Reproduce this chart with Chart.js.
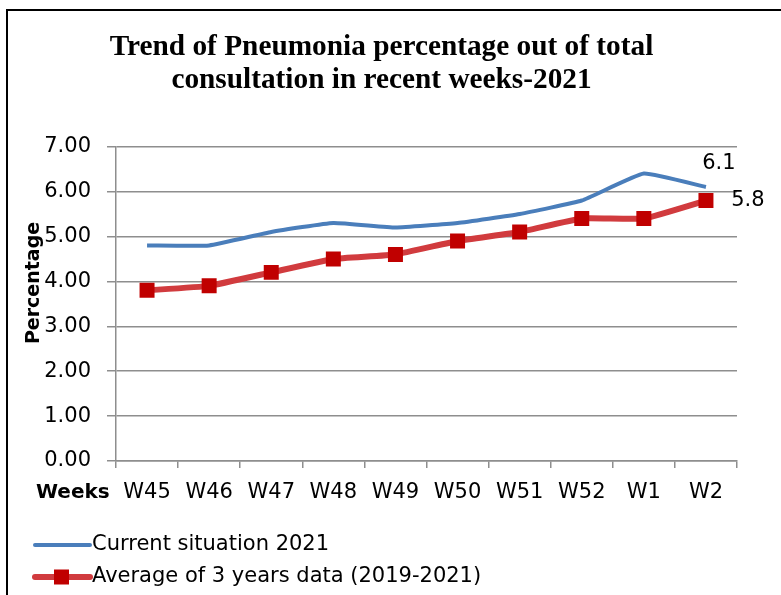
<!DOCTYPE html>
<html>
<head>
<meta charset="utf-8">
<script src="https://cdn.jsdelivr.net/npm/chart.js@4"></script>
<style>
  html, body { margin: 0; padding: 0; background: #fff; }
  #wrap { position: relative; width: 781px; height: 595px; overflow: hidden; }
  #frame { position: absolute; left: 6px; top: 9px; width: 900px; height: 700px;
           border-left: 2px solid #000; border-top: 2px solid #000; }
  canvas { position: absolute; left: 0; top: 0; }
</style>
</head>
<body>
<div id="wrap">
  <div id="frame"></div>
  <canvas id="myChart" width="781" height="595"></canvas>
</div>
<script>
const ctx = document.getElementById('myChart');

// data
const weeks = ['W45', 'W46', 'W47', 'W48', 'W49', 'W50', 'W51', 'W52', 'W1', 'W2'];
const current2021 = [4.8, 4.8, 5.1, 5.3, 5.2, 5.3, 5.5, 5.8, 6.4, 6.1];
const avg3years = [3.8, 3.9, 4.2, 4.5, 4.6, 4.9, 5.1, 5.4, 5.4, 5.8];
const yTicks = [0, 1, 2, 3, 4, 5, 6, 7];

const blue = '#4a7ebb';
const redLine = '#d13b3e';
const redMark = '#c00000';
const gridGray = '#8e8e8e';
const sans = '"DejaVu Sans", sans-serif';

// draws the bits Chart.js can't place like Excel does
const extras = {
  id: 'extras',
  afterDraw(chart) {
    const c = chart.ctx;
    c.save();
    c.fillStyle = '#000';

    // "Weeks" in front of the category labels
    c.font = 'bold 20px ' + sans;
    c.textAlign = 'left';
    c.textBaseline = 'middle';
    c.fillText('Weeks', 36, 493);

    // y title, sitting over the tick labels
    c.save();
    c.translate(34, 283);
    c.rotate(-Math.PI / 2);
    c.textAlign = 'center';
    c.font = 'bold 19px ' + sans;
    c.fillText('Percentage', 0, 0);
    c.restore();

    // value labels on the last points
    c.font = '21px ' + sans;
    c.textAlign = 'center';
    const last = weeks.length - 1;
    const pb = chart.getDatasetMeta(0).data[last];
    const pr = chart.getDatasetMeta(1).data[last];
    c.fillText(current2021[last].toFixed(1), pb.x + 13, pb.y - 24);
    c.fillText(avg3years[last].toFixed(1), pr.x + 42, pr.y);

    // legend, stacked at bottom left
    const rows = [{ y: 545, ds: chart.data.datasets[0] }, { y: 577, ds: chart.data.datasets[1] }];
    rows.forEach(r => {
      c.strokeStyle = r.ds.borderColor;
      c.lineWidth = r.ds.borderWidth;
      c.lineCap = 'round';
      c.beginPath();
      c.moveTo(35, r.y);
      c.lineTo(90, r.y);
      c.stroke();
      if (r.ds.pointRadius > 0) {
        c.fillStyle = r.ds.pointBackgroundColor;
        c.fillRect(54, r.y - 7.5, 15, 15);
      }
      c.fillStyle = '#000';
      c.textAlign = 'left';
      c.font = '21px ' + sans;
      c.fillText(r.ds.label, 92, r.y);
    });
    c.restore();
  }
};

new Chart(ctx, {
  type: 'line',
  data: {
    labels: weeks,
    datasets: [{
      label: 'Current situation 2021',
      data: current2021,
      borderColor: blue,
      backgroundColor: blue,
      borderWidth: 4,
      pointRadius: 0,
      tension: 0.12
    }, {
      label: 'Average of 3 years data (2019-2021)',
      data: avg3years,
      borderColor: redLine,
      backgroundColor: redMark,
      borderWidth: 6,
      pointStyle: 'rect',
      pointRadius: 10.6,
      pointBackgroundColor: redMark,
      pointBorderColor: redMark,
      pointBorderWidth: 0,
      tension: 0.12
    }]
  },
  options: {
    responsive: false,
    animation: false,
    layout: { padding: { left: 26, right: 44, top: 0, bottom: 0 } },
    plugins: {
      legend: { display: false },
      tooltip: { enabled: false },
      title: {
        display: true,
        text: ['Trend of Pneumonia percentage out of total', 'consultation in recent weeks-2021'],
        color: '#000',
        font: { family: '"Liberation Serif", serif', size: 29.3, weight: 'bold', lineHeight: 1.12 },
        padding: { top: 31, bottom: 50 }
      }
    },
    scales: {
      x: {
        offset: true,
        grid: { display: true, drawOnChartArea: false, drawTicks: true, tickLength: 7, offset: true,
                color: gridGray, lineWidth: 1.5 },
        border: { color: gridGray, width: 1.5 },
        ticks: { color: '#000', font: { family: sans, size: 21 }, padding: 12, maxRotation: 0, autoSkip: false },
        afterFit(scale) { scale.height = 134; }
      },
      y: {
        min: yTicks[0],
        max: yTicks[yTicks.length - 1],
        afterBuildTicks(scale) { scale.ticks = yTicks.map(v => ({ value: v })); },
        grid: { color: gridGray, lineWidth: 1.5, tickLength: 9 },
        border: { color: gridGray, width: 1.5 },
        ticks: {
          color: '#000',
          font: { family: sans, size: 21 },
          padding: 16,
          callback: v => Number(v).toFixed(2)
        },
        afterFit(scale) { scale.width = 90; }
      }
    }
  },
  plugins: [extras]
});
</script>
</body>
</html>
